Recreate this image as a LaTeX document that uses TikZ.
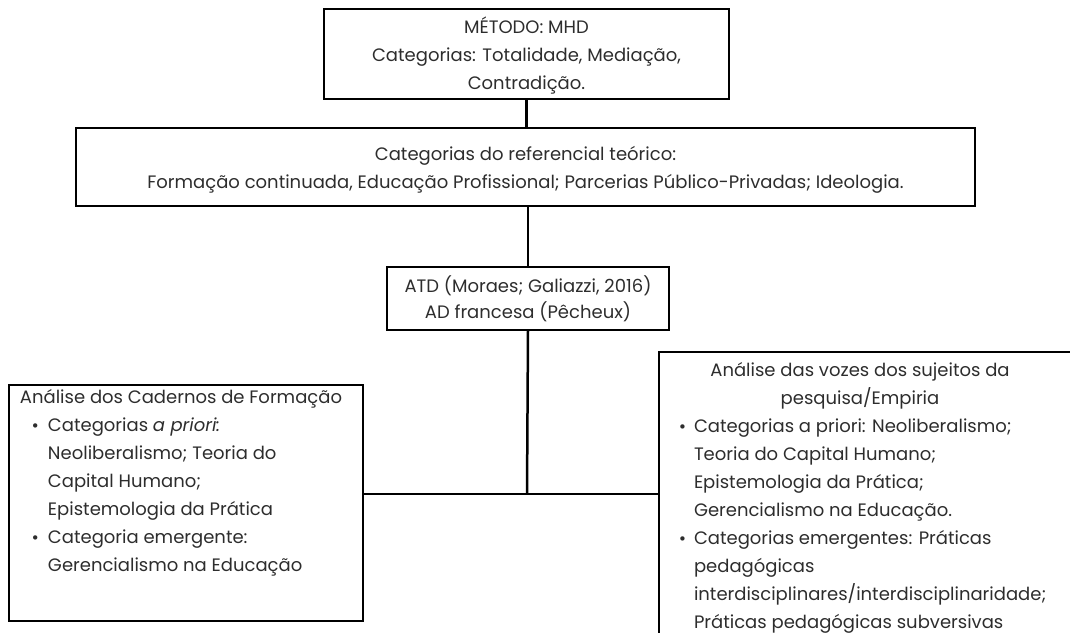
\documentclass[tikz,border=0pt]{standalone}
\usepackage{fontspec}
\setmainfont{Poppins}
\newfontfamily\bulfont{DejaVu Sans}
\definecolor{txt}{RGB}{45,45,45}
\newcommand{\bul}[1]{\makebox[#1][l]{{\bulfont\fontsize{15}{15}\selectfont •}}}
\begin{document}
\begin{tikzpicture}[x=1pt,y=-1pt,
  every node/.style={font=\fontsize{18}{28}\selectfont},
  box/.style={draw=black, line width=2.5pt, inner sep=0pt, outer sep=0pt, anchor=north west, text=txt},
  conn/.style={draw=black, line width=2.5pt}]
\useasboundingbox (0,0) rectangle (1070,632);
\clip (0,0) rectangle (1070,632);
\node[box] (metodo) at (324,9) {\parbox[c][90pt][t]{405pt}{\centering\rule{0pt}{24pt}MÉTODO: MHD\\Categorias: Totalidade, Mediação,\\Contradição.}};
\node[box] (teorico) at (76,128) {\parbox[c][78pt][t]{899pt}{\centering\rule{0pt}{32pt}Categorias do referencial teórico:\\Formação continuada, Educação Profissional; Parcerias Público-Privadas; Ideologia.}};
\node[box] (atd) at (387,267) {\parbox[c][63pt][t]{282pt}{\centering\fontsize{18}{26}\selectfont\rule{0pt}{25pt}ATD (Moraes; Galiazzi, 2016)\\AD francesa (Pêcheux)}};
\node[box] (cadernos) at (9,385) {\parbox[c][236pt][t]{354pt}{\raggedright\rule{0pt}{18pt}%
\hspace*{11pt}\mbox{Análise dos Cadernos de Formação}\\
\hspace*{22pt}\bul{17pt}\mbox{Categorias \textit{a priori:}}\\
\hspace*{39pt}\mbox{Neoliberalismo; Teoria do}\\
\hspace*{39pt}\mbox{Capital Humano;}\\
\hspace*{39pt}\mbox{Epistemologia da Prática}\\
\hspace*{22pt}\bul{17pt}\mbox{Categoria emergente:}\\
\hspace*{39pt}\mbox{Gerencialismo na Educação}}};
\node[box] (vozes) at (659,352) {\parbox[c][300pt][t]{416pt}{\raggedright\rule{0pt}{24pt}%
\makebox[402pt]{Análise das vozes dos sujeitos da}\\
\makebox[402pt]{pesquisa/Empiria}\\
\hspace*{19pt}\bul{16pt}\mbox{Categorias a priori: Neoliberalismo;}\\
\hspace*{35pt}\mbox{Teoria do Capital Humano;}\\
\hspace*{35pt}\mbox{Epistemologia da Prática;}\\
\hspace*{35pt}\mbox{Gerencialismo na Educação.}\\
\hspace*{19pt}\bul{16pt}\mbox{Categorias emergentes: Práticas}\\
\hspace*{35pt}\mbox{pedagógicas}\\
\hspace*{35pt}\mbox{interdisciplinares/interdisciplinaridade;}\\
\hspace*{35pt}\mbox{Práticas pedagógicas subversivas}}};
\coordinate (j) at (527,494);
\draw[conn] (metodo.south) -- (metodo.south |- teorico.north);
\draw[conn] (atd.north |- teorico.south) -- (atd.north);
\draw[conn] (atd.south) -- (j);
\draw[conn] (cadernos.east |- j) -- (vozes.west |- j);
\end{tikzpicture}
\end{document}
